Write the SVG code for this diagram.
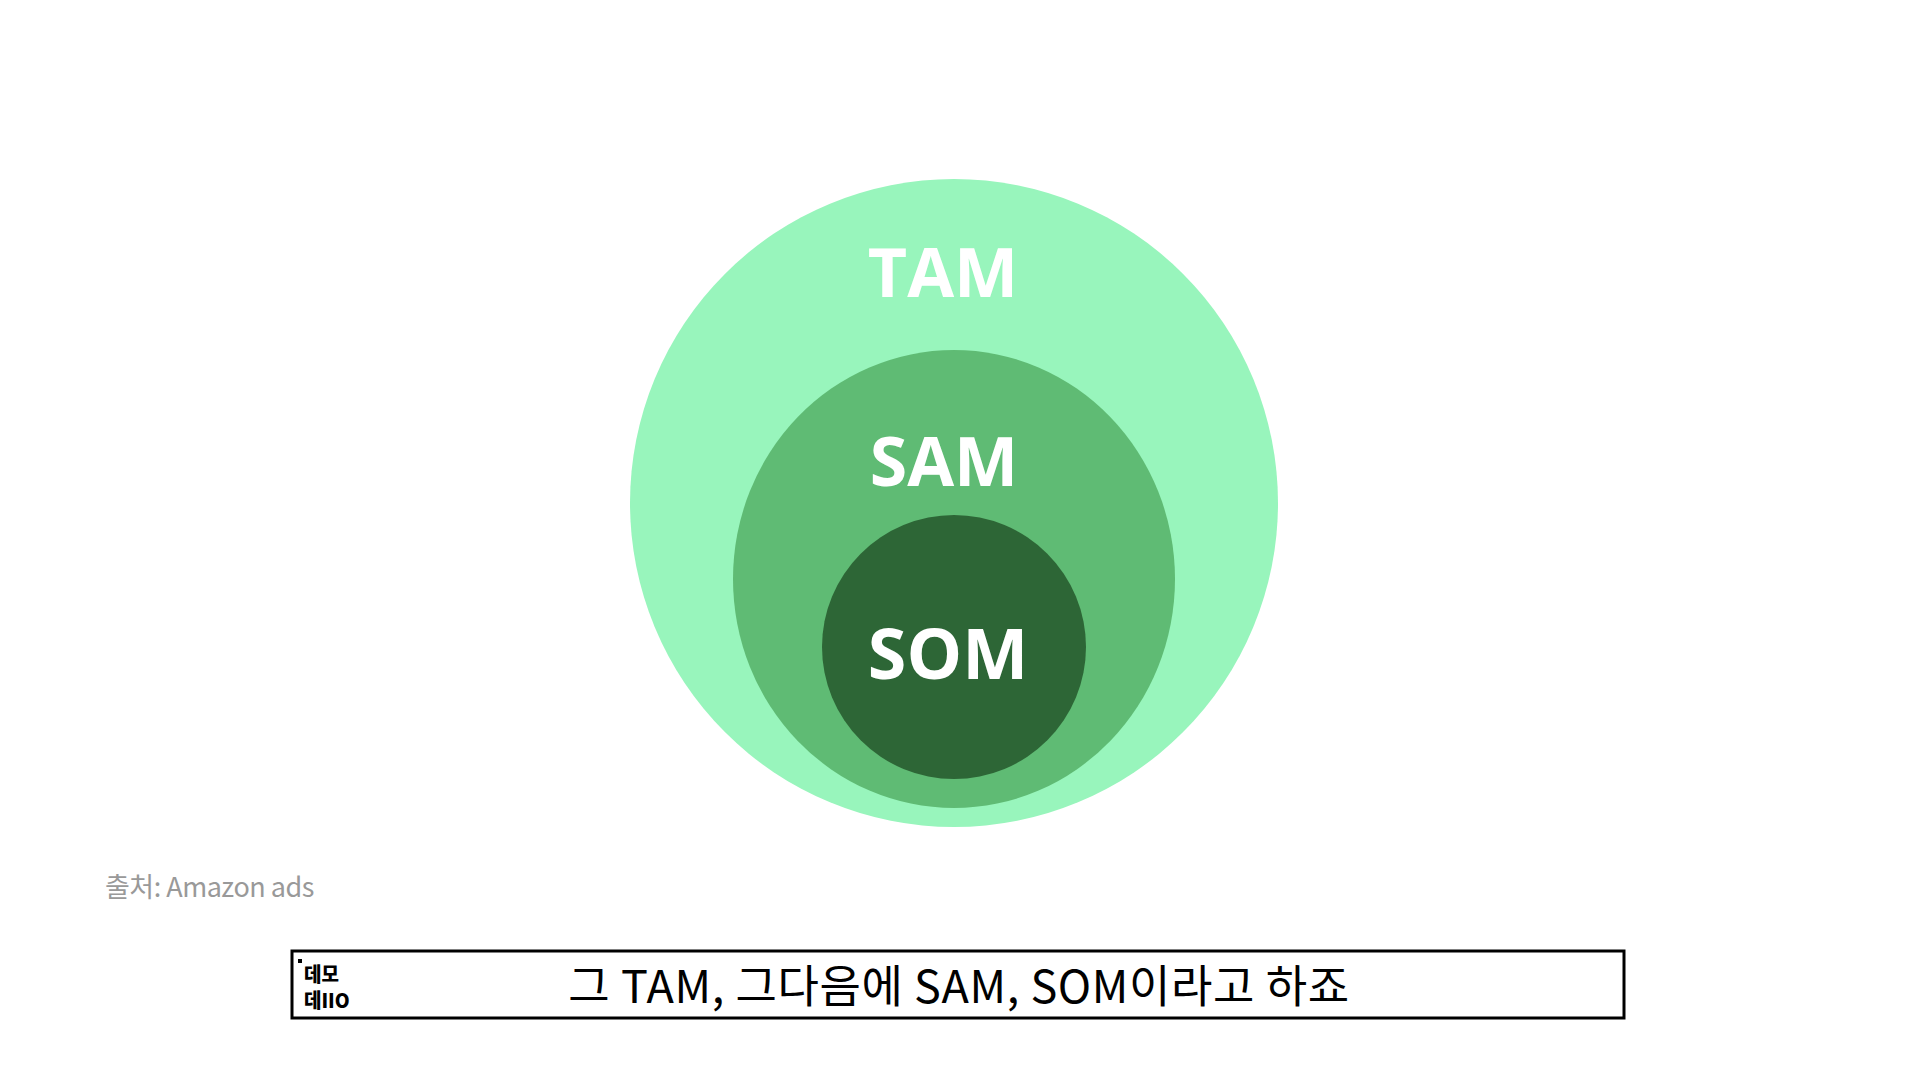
<svg xmlns="http://www.w3.org/2000/svg" width="1920" height="1080" viewBox="0 0 1920 1080">
<style>
.lbl{font-family:"Open Sans","Noto Sans",sans-serif;font-weight:bold;fill:#fff;text-anchor:middle}
.k{font-family:"Noto Sans CJK KR","Noto Sans",sans-serif}
</style>
<rect width="1920" height="1080" fill="#fff"/>
<g id="tam"><circle cx="954" cy="503" r="324" fill="#98F5BC"/><text class="lbl" x="943" y="297" font-size="68">TAM</text></g>
<g id="sam"><ellipse cx="954" cy="579" rx="221" ry="229" fill="#5FBB74"/><text class="lbl" x="944" y="486" font-size="68">SAM</text></g>
<g id="som"><circle cx="954" cy="647" r="132" fill="#2D6636"/><text class="lbl" x="948" y="679" font-size="70">SOM</text></g>
<text class="k" x="105" y="897" font-size="27" fill="#999" letter-spacing="-0.5">출처: Amazon ads</text>
<g id="subtitle">
<rect x="292" y="951" width="1332" height="67" fill="#fff" stroke="#000" stroke-width="3"/>
<rect x="298" y="959" width="4" height="4" fill="#000"/>
<text class="k" x="304" y="982" font-size="20" font-weight="900" fill="#000" transform="translate(304 0) scale(0.95 1) translate(-304 0)">데모</text>
<text class="k" x="304" y="1008" font-size="20" font-weight="900" fill="#000" transform="translate(304 0) scale(0.95 1) translate(-304 0)">데IIO</text>
<text class="k" x="959" y="1003" font-size="45" fill="#000" text-anchor="middle" letter-spacing="0.6">그 TAM, 그다음에 SAM, SOM이라고 하죠</text>
</g>
</svg>
